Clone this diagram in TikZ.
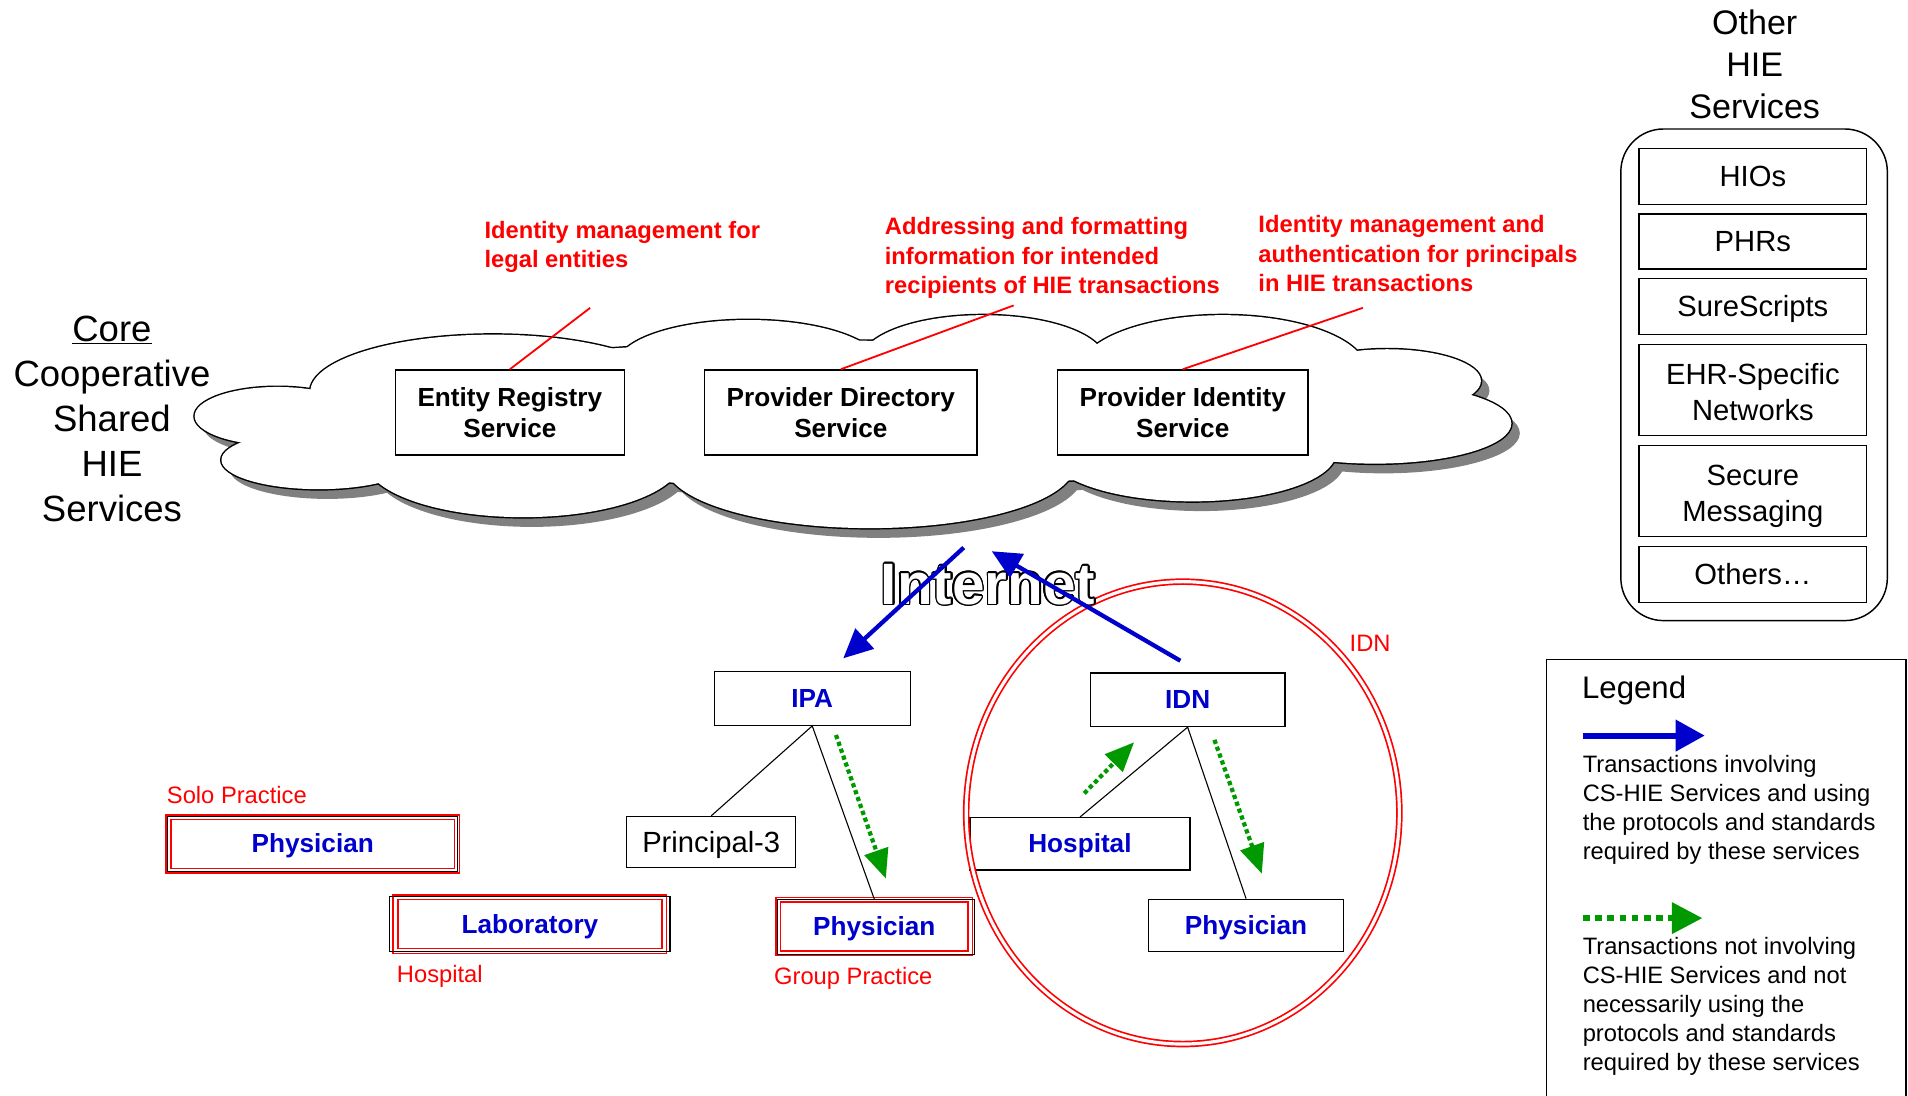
\documentclass[tikz,border=0pt]{standalone}
\usepackage{fontspec}
\setmainfont{Liberation Sans}
\usepackage{contour}
\usetikzlibrary{arrows.meta}
\definecolor{xanhdam}{RGB}{0,0,204}
\definecolor{lacay}{RGB}{0,153,0}
\contourlength{1.3pt}
\begin{document}
\begin{tikzpicture}[x=1pt,y=-1pt,
	hop/.style={draw,fill=white,line width=1.1pt,inner sep=0pt,align=center},
	t21/.style={text height=19.5pt,text depth=4.6pt},
	t24/.style={text height=21.7pt,text depth=5.1pt},
	hai/.style={text height=55.3pt,text depth=5.1pt},
	dichvu/.style={hop,font=\fontsize{21.5}{26}\selectfont\bfseries},
	xanh/.style={hop,t21,text=xanhdam,font=\fontsize{21.5}{26}\selectfont\bfseries},
	viendo/.style={xanh,draw=red,double=white,line width=1.2pt,double distance=2.6pt},
	ghido/.style={text=red,font=\fontsize{19.5}{24}\selectfont,inner sep=0pt},
	ghichu/.style={text=red,font=\fontsize{19.5}{24}\selectfont\bfseries,align=left,anchor=west,inner sep=0pt},
	muixanh/.style={draw=xanhdam,line width=3.5pt,-{Triangle[length=24pt,width=22pt]}},
	muila/.style={draw=lacay,line width=3.5pt,dash pattern=on 3.5pt off 2.5pt,-{Triangle[length=24pt,width=20pt]}}]% toạ độ tính theo điểm ảnh
				\useasboundingbox (0,0) rectangle (1568,900);
				\def\may{228/342/68/24,405/322/150/47,615/300/108/37,808/296/100/37,1005/305/118/46,1140/313/77/26,1130/348/112/33,980/372/118/40,715/382/168/52,430/378/130/47,262/378/80/24,700/340/440/60}
				\foreach \cx/\cy/\rx/\ry in \may
					\fill[gray] (\cx+7,\cy+8) ellipse ({\rx} and {\ry});
				\foreach \cx/\cy/\rx/\ry in \may
					\draw[line width=2.4pt] (\cx,\cy) ellipse ({\rx} and {\ry});
				\foreach \cx/\cy/\rx/\ry in \may
					\fill[white] (\cx,\cy) ellipse ({\rx} and {\ry});
				
				\node[dichvu,minimum width=188,minimum height=70] (ers) at (419,339) {Entity Registry\\Service};
				\node[dichvu,minimum width=224,minimum height=70] (pds) at (691,339) {Provider Directory\\Service};
				\node[dichvu,minimum width=206,minimum height=70] (pis) at (972,339) {Provider Identity\\Service};
				
				\node[ghichu] (gc1) at (398,203) {Identity management for\\legal entities};
				\node[ghichu] (gc2) at (727,212) {Addressing and formatting\\information for intended\\recipients of HIE transactions};
				\node[ghichu] (gc3) at (1034,208.5) {Identity management and\\authentication for principals\\in HIE transactions};
				\coordinate (d1) at (485,253);
				\coordinate (d2) at (833,251);
				\coordinate (d3) at (1120,253);
				\draw[red,line width=1.5pt] (d1) -- (ers.north) (d2) -- (pds.north) (d3) -- (pis.north);
				
				\node[align=center,font=\fontsize{30}{37}\selectfont] (core) at (92,344) {\underline{Core}\\Cooperative\\Shared\\HIE\\Services};
				\node[align=center,font=\fontsize{28}{34.5}\selectfont] (other) at (1442,53) {Other\\HIE\\Services};
				\draw[line width=1.2pt,rounded corners=35pt] (1332,106) rectangle (1551,510);
				\foreach \ten/\y/\h/\kc/\chu in {hios/145/46/t24/HIOs,phr/198.5/45/t24/PHRs,ss/252/46/t24/SureScripts,ehr/320.5/75/hai/{EHR-Specific\\Networks},sm/403.5/75/hai/{Secure\\Messaging},kh/472/46/t24/Others…}
					\node[hop,\kc,font=\fontsize{24}{30}\selectfont,minimum width=187,minimum height=\h] (\ten) at (1440.5,\y) {\chu};
				
				\node[xanh,minimum width=161,minimum height=44] (ipa) at (667.5,574) {IPA};
				\node[xanh,minimum width=160,minimum height=44] (idn) at (976,575) {IDN};
				\node[hop,t24,font=\fontsize{24}{28}\selectfont,minimum width=139,minimum height=42] (p3) at (584.5,692) {Principal-3};
				\node[xanh,minimum width=181,minimum height=43] (bv) at (887.5,693.5) {Hospital};
				\node[xanh,minimum width=160,minimum height=43] (bs3) at (1024,760.5) {Physician};
				\node[viendo,minimum width=237,minimum height=44] (bs1) at (257,693.5) {Physician};
				\node[viendo,minimum width=221,minimum height=44] (xn) at (435.5,759.5) {Laboratory};
				\node[viendo,minimum width=158,minimum height=44] (bs2) at (718.5,761.5) {Physician};
				\draw[line width=0.9pt] (bs1.north west) rectangle (bs1.south east);
				\draw[line width=0.9pt] ([xshift=-4pt]xn.north west) rectangle ([xshift=4pt]xn.south east);
				\draw[line width=0.9pt] (bs2.north west) rectangle ([xshift=3pt]bs2.south east);
				
				\node[ghido,anchor=west] (solo) at (137,653) {Solo Practice};
				\node[ghido,anchor=west] (hosp) at (326,802) {Hospital};
				\node[ghido,anchor=west] (grp) at (636,804) {Group Practice};
				\node[ghido] (idnl) at (1126,529) {IDN};
				\draw[red,double=white,line width=1.4pt,double distance=2.6pt] (972,668) ellipse (178 and 190);
				
				\draw[line width=0.9pt] (ipa.south) -- (p3.north) (ipa.south) -- (bs2.north)
				(idn.south) -- (bv.north) (idn.south) -- (bs3.north);
				
				\node[font=\fontsize{48}{50}\selectfont\bfseries] (net) at (812,481) {\contour{black}{\textcolor{white}{Internet}}};
				\coordinate (mA) at (792,450);
				\coordinate (ipaT) at (693,541);
				\coordinate (idnT) at (970,543);
				\coordinate (mB) at (815,453);
				\draw[muixanh] (mA) -- (ipaT);
				\draw[muixanh] (idnT) -- (mB);
				
				\coordinate (g1) at (687,604); \coordinate (g1e) at (728,722);
				\coordinate (g2) at (891,652); \coordinate (g2e) at (932,610);
				\coordinate (g3) at (998,608); \coordinate (g3e) at (1037,718);
				\draw[muila] (g1) -- (g1e);
				\draw[muila] (g2) -- (g2e);
				\draw[muila] (g3) -- (g3e);
				
				% chú thích
				\draw[line width=1.2pt] (1271,905) -- (1271,542) -- (1566.5,542) -- (1566.5,905);
				\node[anchor=west,inner sep=0pt,font=\fontsize{25.6}{30}\selectfont] (leg) at (1300,567.5) {Legend};
				\coordinate (l1) at (1301,604.5); \coordinate (l1e) at (1401,604.5);
				\coordinate (l2) at (1301,754.5); \coordinate (l2e) at (1399,754.5);
				\draw[draw=xanhdam,line width=5pt,-{Triangle[length=24pt,width=25pt]}] (l1) -- (l1e);
				\draw[draw=lacay,line width=4.5pt,dash pattern=on 5.5pt off 4.5pt,-{Triangle[length=25pt,width=25pt]}] (l2) -- (l2e);
				\node[anchor=west,align=left,inner sep=0pt,font=\fontsize{19.5}{23.7}\selectfont] (lt1) at (1300.5,665.5) {Transactions involving\\CS-HIE Services and using\\the protocols and standards\\required by these services};
				\node[anchor=west,align=left,inner sep=0pt,font=\fontsize{19.5}{23.7}\selectfont] (lt2) at (1300.5,827) {Transactions not involving\\CS-HIE Services and not\\necessarily using the\\protocols and standards\\required by these services};
			\end{tikzpicture}
\end{document}
